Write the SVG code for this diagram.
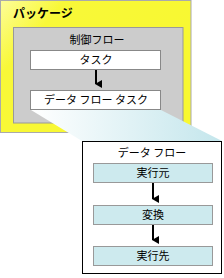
<svg xmlns="http://www.w3.org/2000/svg" width="224" height="278" viewBox="0 0 224 278">
<defs>
<linearGradient id="yel" x1="0" y1="0" x2="1" y2="0.6">
<stop offset="0" stop-color="#fdfd9a"/>
<stop offset="0.25" stop-color="#f8f838"/>
<stop offset="1" stop-color="#f8f830"/>
</linearGradient>
<linearGradient id="proj" x1="0" y1="0" x2="1" y2="0">
<stop offset="0" stop-color="#ffffff"/>
<stop offset="1" stop-color="#c4e6ec"/>
</linearGradient>
<marker id="ah" markerWidth="8" markerHeight="8" refX="4" refY="6" orient="auto" markerUnits="userSpaceOnUse" viewBox="0 0 8 8">
<path d="M0,0 L8,0 L4,7 Z" fill="#000"/>
</marker>
<style>
text{font-family:"Noto Sans CJK JP","Noto Sans",sans-serif;font-size:11px;fill:#000;text-anchor:middle}
.t{font-weight:bold;font-size:12px;text-anchor:start}
.wb{fill:#fff;stroke:#888;stroke-width:1}
.cb{fill:#cdeaee;stroke:#999;stroke-width:1}
.ar{stroke:#000;stroke-width:2;fill:none}
</style>
</defs>
<g id="package">
<rect x="0.5" y="0.5" width="190.5" height="132" fill="url(#yel)" stroke="#aaa"/>
<text class="t" x="13" y="18">パッケージ</text>
</g>
<g id="controlflow">
<rect x="13.5" y="27.5" width="169.5" height="95.5" fill="#cccccc" stroke="#999"/>
<text x="97" y="44">制御フロー</text>
</g>
<g id="task">
<rect class="wb" x="30.5" y="50.5" width="130" height="19"/>
<text x="96" y="64">タスク</text>
</g>
<g id="dataflowtask">
<rect class="wb" x="30.5" y="90.5" width="130" height="19"/>
<text x="96" y="104">データ フロー タスク</text>
</g>
<g id="projection">
<polygon points="31,110 161,110 222,141 82,141" fill="url(#proj)"/>
</g>
<g id="dataflow">
<rect x="82.5" y="141.5" width="139" height="132" fill="#fff" stroke="#000"/>
<text x="152" y="157">データ フロー</text>
</g>
<g id="source">
<rect class="cb" x="93.5" y="163.5" width="119" height="19"/>
<text x="153" y="177">実行元</text>
</g>
<g id="transform">
<rect class="cb" x="93.5" y="205.5" width="119" height="19"/>
<text x="153" y="219">変換</text>
</g>
<g id="destination">
<rect class="cb" x="93.5" y="246.5" width="119" height="19"/>
<text x="153" y="260">実行先</text>
</g>
<g id="connectors">
<line class="ar" x1="96" y1="70" x2="96" y2="84" marker-end="url(#ah)"/>
<line class="ar" x1="153" y1="183" x2="153" y2="199" marker-end="url(#ah)"/>
<line class="ar" x1="153" y1="225" x2="153" y2="240" marker-end="url(#ah)"/>
</g>
</svg>
